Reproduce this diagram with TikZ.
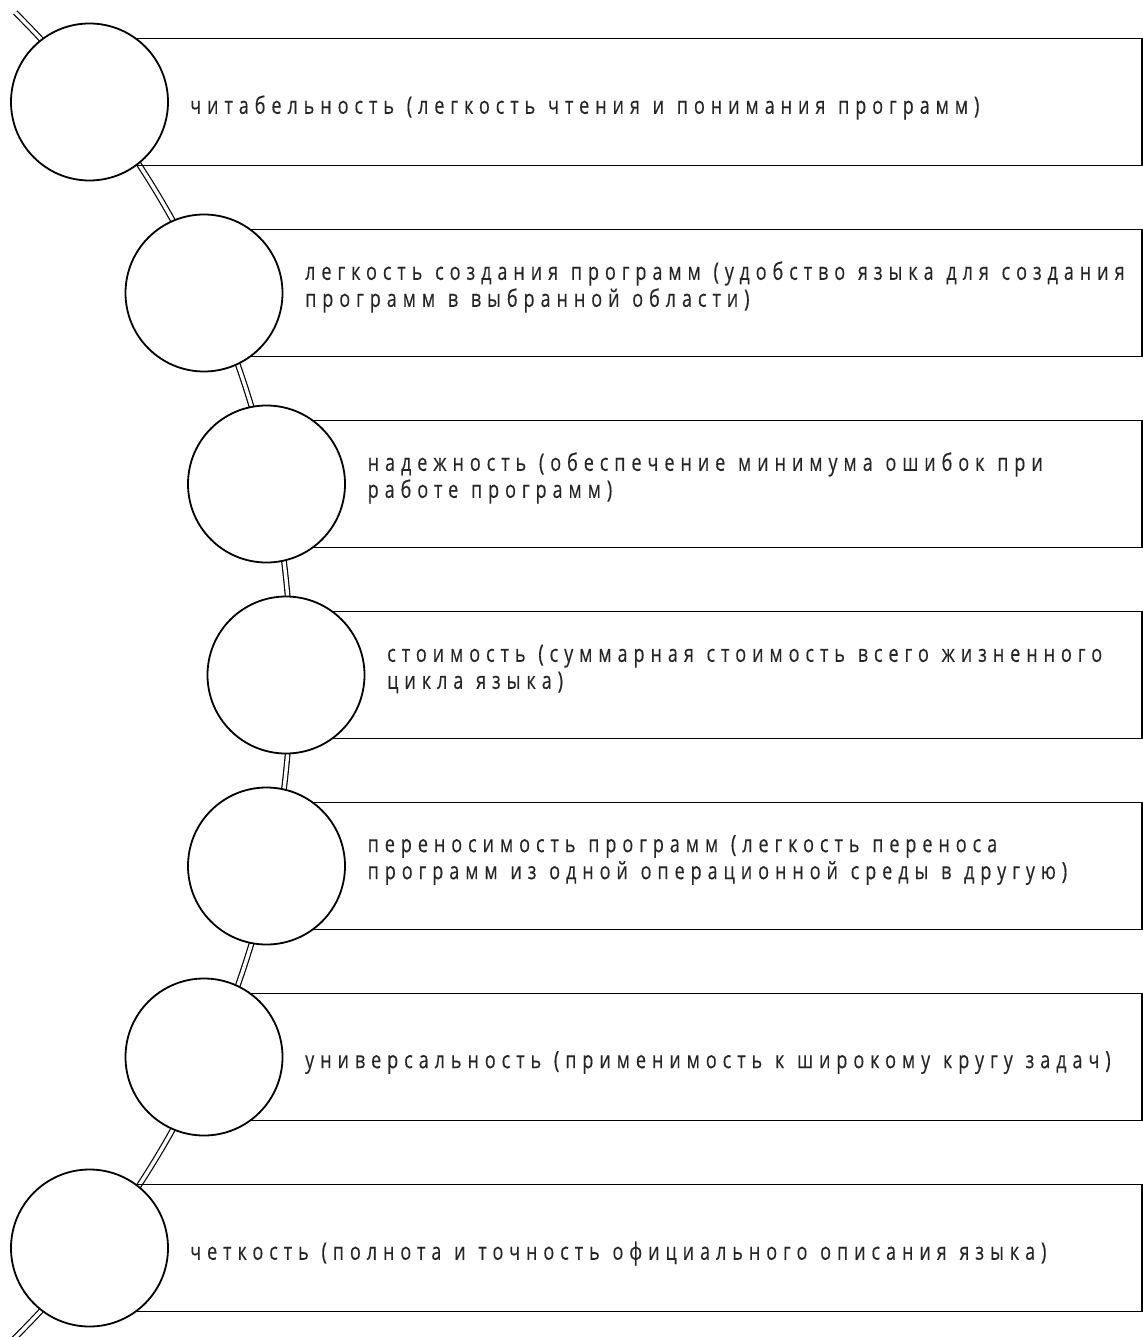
\documentclass[tikz,border=0pt]{standalone}
\usepackage{fontspec}
\usetikzlibrary{calc}
\setmainfont{Open Sans}[FakeStretch=0.75, LetterSpace=24.8, WordSpace=1.2, FakeBold=0.3]
\begin{document}
\begin{tikzpicture}[x=1pt,y=1pt,
  ring/.style={circle, draw=black, fill=white, line width=1.8pt, minimum size=157pt, inner sep=0pt},
  itembox/.style={draw=black, line width=1.6pt, minimum height=127pt, inner sep=0pt, anchor=west},
  itemtext/.style={anchor=west, align=left, inner sep=0pt, text=black!85, font=\fontsize{24}{27}\selectfont},
  link/.style={double=white, draw=black, line width=1.2pt, double distance=3.4pt, line cap=butt}]
\useasboundingbox (0,0) rectangle (1142,-1337);
% connector arc (behind everything)
\coordinate (arcc) at (-642.7,-675);
\coordinate (linktop) at ($(arcc)+(45.2:933.7)$);
\draw[link] (linktop) arc[start angle=45.2, end angle=-45.6, radius=933.7];
% boxes
\foreach \i/\cx/\cy in {1/89.5/102, 2/204/293, 3/266.5/484, 4/286/675, 5/266.5/866, 6/204/1057, 7/89.5/1248}{
  \pgfmathsetmacro{\w}{1141-\cx}
  \node[itembox, minimum width=\w pt] (b\i) at (\cx,-\cy) {};
}
% circles
\foreach \i/\cx/\cy in {1/89.5/102, 2/204/293, 3/266.5/484, 4/286/675, 5/266.5/866, 6/204/1057, 7/89.5/1248}{
  \node[ring] (c\i) at (\cx,-\cy) {};
}
% texts
\node[itemtext] (t1) at (190,-107.5) {читабельность (легкость чтения и понимания программ)};
\node[itemtext] (t2) at (305,-287) {легкость создания программ (удобство языка для создания\\программ в выбранной области)};
\node[itemtext] (t3) at (367.5,-478) {надежность (обеспечение минимума ошибок при\\работе программ)};
\node[itemtext] (t4) at (387,-669) {стоимость (суммарная стоимость всего жизненного\\цикла языка)};
\node[itemtext] (t5) at (367.5,-860) {переносимость программ (легкость переноса\\программ из одной операционной среды в другую)};
\node[itemtext] (t6) at (305,-1062.5) {универсальность (применимость к широкому кругу задач)};
\node[itemtext] (t7) at (190,-1253.5) {четкость (полнота и точность официального описания языка)};
\end{tikzpicture}
\end{document}
